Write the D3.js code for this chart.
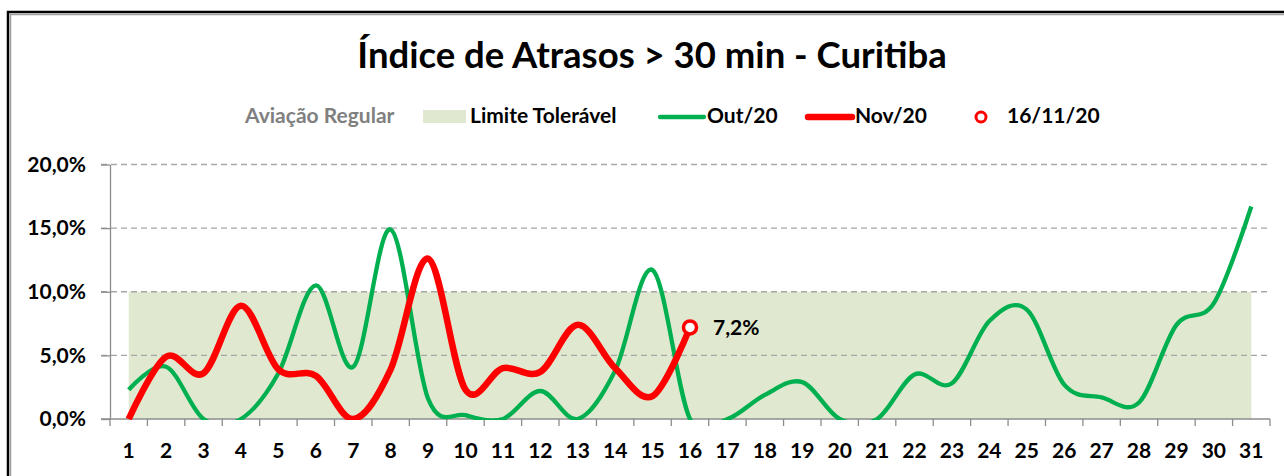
<!DOCTYPE html>
<html>
<head>
<meta charset="utf-8">
<script src="https://cdn.jsdelivr.net/npm/d3@7"></script>
<style>
  body { margin: 0; background: #fff; }
  svg { display: block; font-family: Lato, "Open Sans", sans-serif; font-weight: bold; }
</style>
</head>
<body>
<svg width="1284" height="476"></svg>
<script>
const svg = d3.select("svg"),
    width = +svg.attr("width"),
    height = +svg.attr("height");

// dias do mês
const days = d3.range(1, 32);
// Out/20 (31 dias)
const out20 = [0.023, 0.041, 0.000, 0.000, 0.036, 0.105, 0.041, 0.149, 0.016, 0.003,
               0.000, 0.022, 0.000, 0.038, 0.117, 0.000, 0.000, 0.019, 0.029, 0.000,
               0.000, 0.035, 0.028, 0.077, 0.086, 0.027, 0.017, 0.013, 0.074, 0.091,
               0.167];
// Nov/20 (até 16/11)
const nov20 = [0.000, 0.049, 0.036, 0.089, 0.039, 0.034, 0.000, 0.039, 0.126, 0.023,
               0.040, 0.037, 0.074, 0.040, 0.018, 0.072];
const limite = days.map(() => 0.10);
const yTicks = [0, 0.05, 0.10, 0.15, 0.20];

const ptBR = d3.formatLocale({decimal: ",", thousands: ".", grouping: [3], currency: ["R$", ""]});
const pct = ptBR.format(".1%");

const x = d3.scaleBand().domain(days).range([110, 1270]);
const cx = d => x(d) + x.bandwidth() / 2;
const y = d3.scaleLinear().domain([0, 0.20]).range([419, 164.5]);

// moldura
svg.append("rect").attr("x", 8).attr("y", 12).attr("width", 1290).attr("height", 480)
    .attr("fill", "none").attr("stroke", "#000").attr("stroke-width", 2.5);
svg.append("rect").attr("x", 10.5).attr("y", 14.5).attr("width", 1290).attr("height", 480)
    .attr("fill", "none").attr("stroke", "#a0a0a0").attr("stroke-width", 1.5);

// título
svg.append("text")
    .attr("x", 652).attr("y", 68)
    .attr("text-anchor", "middle")
    .attr("font-size", "36.5px")
    .text("Índice de Atrasos > 30 min - Curitiba");

// área tolerável
svg.append("path")
    .datum(days)
    .attr("fill", "#e0e9cf")
    .attr("d", d3.area().x(d => cx(d)).y0(y(0)).y1((d, i) => y(limite[i])));

// grade
svg.append("g")
  .selectAll("line")
  .data(yTicks.slice(1))
  .enter().append("line")
    .attr("x1", 101).attr("x2", 1270)
    .attr("y1", d => y(d)).attr("y2", d => y(d))
    .attr("stroke", "#a6a6a6")
    .attr("stroke-width", 1.3)
    .attr("stroke-dasharray", "6,4");

// eixo Y
const yAxis = svg.append("g")
    .attr("transform", "translate(110,0)")
    .call(d3.axisLeft(y).tickValues(yTicks).tickFormat(pct).tickSize(9).tickPadding(15).tickSizeOuter(0));
yAxis.select(".domain").attr("stroke", "#8c8c8c").attr("stroke-width", 1.3);
yAxis.selectAll(".tick line").attr("stroke", "#8c8c8c").attr("stroke-width", 1.3);
yAxis.selectAll(".tick text").attr("font-size", "21px").attr("font-family", "Lato").attr("font-weight", "bold").attr("fill", "#000");

// eixo X
const xAxis = svg.append("g")
    .attr("transform", `translate(0,${y(0)})`)
    .call(d3.axisBottom(x).tickSize(0).tickPadding(24).tickSizeOuter(0));
xAxis.select(".domain").remove();
xAxis.selectAll(".tick text").attr("font-size", "21px").attr("font-family", "Lato").attr("font-weight", "bold").attr("fill", "#000");
svg.append("line")
    .attr("x1", 101).attr("x2", 1270).attr("y1", y(0)).attr("y2", y(0))
    .attr("stroke", "#8c8c8c").attr("stroke-width", 1.3);
svg.append("g")
  .selectAll("line")
  .data(days.concat([32]))
  .enter().append("line")
    .attr("x1", d => d === 32 ? 1270 : x(d)).attr("x2", d => d === 32 ? 1270 : x(d))
    .attr("y1", y(0)).attr("y2", y(0) + 7)
    .attr("stroke", "#8c8c8c").attr("stroke-width", 1.3);

// linhas
svg.append("clipPath").attr("id", "plot")
  .append("rect").attr("x", 110).attr("y", 150).attr("width", 1160).attr("height", y(0) - 150 + 1);

const line = d3.line().x((d, i) => cx(days[i])).y(d => y(d)).curve(d3.curveCardinal.tension(0));

svg.append("path")
    .datum(out20)
    .attr("clip-path", "url(#plot)")
    .attr("fill", "none")
    .attr("stroke", "#00b050")
    .attr("stroke-width", 4.3)
    .attr("stroke-linejoin", "round")
    .attr("d", line);

svg.append("path")
    .datum(nov20)
    .attr("clip-path", "url(#plot)")
    .attr("fill", "none")
    .attr("stroke", "#ff0000")
    .attr("stroke-width", 6.5)
    .attr("stroke-linejoin", "round")
    .attr("d", line);

// marcador do último dia
const last = nov20.length;
svg.append("circle")
    .attr("cx", cx(last)).attr("cy", y(nov20[last - 1]))
    .attr("r", 6.5)
    .attr("fill", "#fff").attr("stroke", "#ff0000").attr("stroke-width", 3.5);
svg.append("text")
    .attr("x", cx(last) + 23).attr("y", y(nov20[last - 1]) + 7.5)
    .attr("font-size", "21px")
    .text(pct(nov20[last - 1]));

// legenda
const lg = svg.append("g").attr("font-size", "21px");
lg.append("text").attr("x", 245).attr("y", 123).attr("fill", "#808080").text("Aviação Regular");
lg.append("rect").attr("x", 423).attr("y", 110).attr("width", 43).attr("height", 13).attr("fill", "#e0e9cf");
lg.append("text").attr("x", 470).attr("y", 123).text("Limite Tolerável");
lg.append("line").attr("x1", 660).attr("x2", 704).attr("y1", 117).attr("y2", 117)
    .attr("stroke", "#00b050").attr("stroke-width", 4.3).attr("stroke-linecap", "round");
lg.append("text").attr("x", 707).attr("y", 123).text("Out/20");
lg.append("line").attr("x1", 808).attr("x2", 852).attr("y1", 117).attr("y2", 117)
    .attr("stroke", "#ff0000").attr("stroke-width", 6.5).attr("stroke-linecap", "round");
lg.append("text").attr("x", 855).attr("y", 123).text("Nov/20");
lg.append("circle").attr("cx", 981).attr("cy", 117).attr("r", 5)
    .attr("fill", "#fff").attr("stroke", "#ff0000").attr("stroke-width", 3);
lg.append("text").attr("x", 1007).attr("y", 123).text("16/11/20");
</script>
</body>
</html>
